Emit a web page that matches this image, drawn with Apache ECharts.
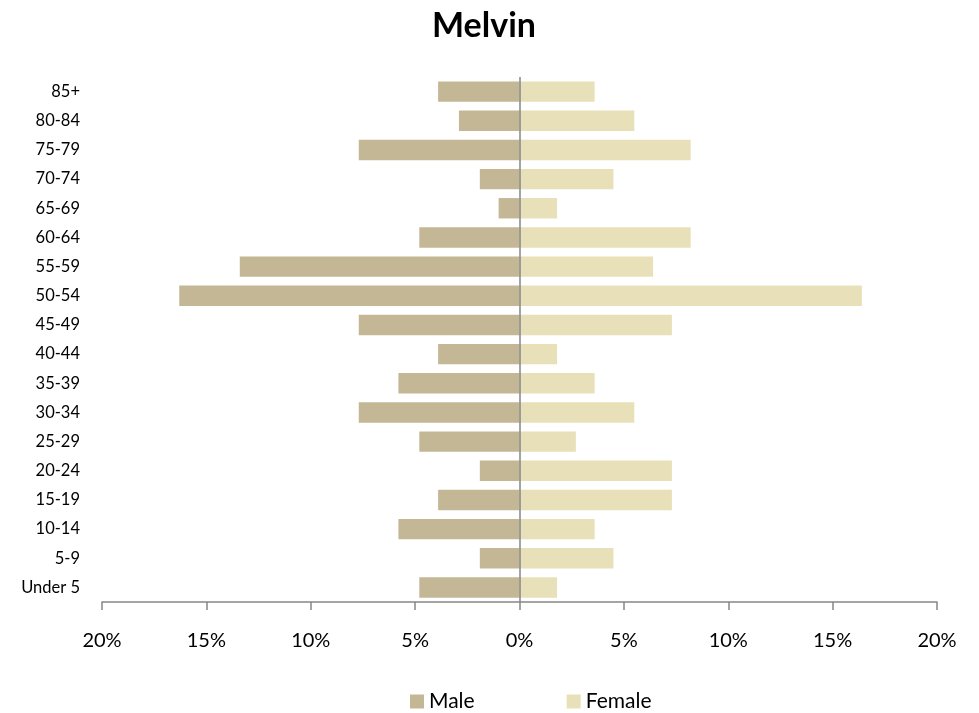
<!DOCTYPE html>
<html><head><meta charset="utf-8">
<script src="https://cdn.jsdelivr.net/npm/echarts@6/dist/echarts.min.js"></script>
<style>html,body{margin:0;padding:0;background:#fff}#c{width:979px;height:713px}</style>
</head><body><div id="c"></div>
<script>
const categories = ['Under 5','5-9','10-14','15-19','20-24','25-29','30-34','35-39','40-44','45-49','50-54','55-59','60-64','65-69','70-74','75-79','80-84','85+'];
const male = [4.8,1.9,5.8,3.9,1.9,4.8,7.7,5.8,3.9,7.7,16.3,13.4,4.8,1.0,1.9,7.7,2.9,3.9];
const female = [1.8,4.5,3.6,7.3,7.3,2.7,5.5,3.6,1.8,7.3,16.4,6.4,8.2,1.8,4.5,8.2,5.5,3.6];

const font = 'Lato, "Open Sans", sans-serif';
const chart = echarts.init(document.getElementById('c'));
chart.setOption({
  animation: false,
  title: { text: 'Melvin', left: 427, top: 4,
    textStyle: { fontFamily: font, fontSize: 34, fontWeight: 'bold', color: '#000' } },
  legend: { top: 686, left: 405, itemGap: 92, itemWidth: 14, itemHeight: 14, icon: 'rect',
    textStyle: { fontFamily: font, fontSize: 21, color: '#000' },
    data: ['Male','Female'] },
  grid: { left: 102, right: 42, top: 77, bottom: 111 },
  xAxis: { type: 'value', min: -20, max: 20, interval: 5,
    axisLine: { show: true, lineStyle: { color: '#868686', width: 1.5 } },
    axisTick: { show: true, length: 8, lineStyle: { color: '#868686', width: 1.5 } },
    splitLine: { show: false },
    axisLabel: { margin: 29, fontFamily: font, fontSize: 20, color: '#000',
      formatter: v => Math.abs(v) + '%' } },
  yAxis: { type: 'category', data: categories, position: 'left',
      axisLine: { show: false }, axisTick: { show: false },
      axisLabel: { margin: 22, fontFamily: font, fontSize: 16.5, color: '#000' } },
  series: [
    { name: 'Male', type: 'bar', stack: 'p', barWidth: '70%',
      itemStyle: { color: '#C4B796' }, data: male.map(v => -v),
      markLine: { silent: true, symbol: 'none', label: { show: false },
        lineStyle: { color: '#868686', width: 1.5, type: 'solid' },
        data: [{ xAxis: 0 }] } },
    { name: 'Female', type: 'bar', stack: 'p', barWidth: '70%',
      itemStyle: { color: '#E8E0B8' }, data: female }
  ]
});
</script></body></html>
